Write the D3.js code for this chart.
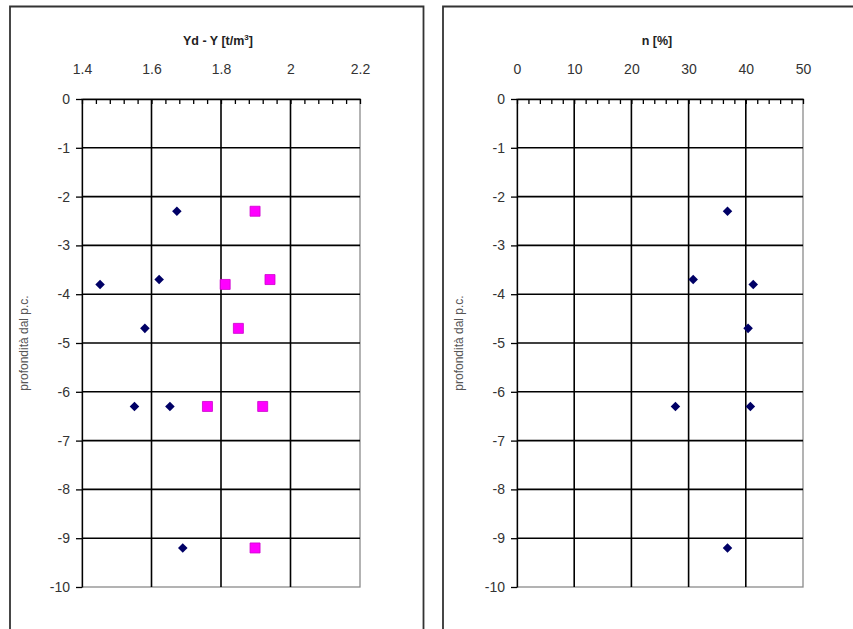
<!DOCTYPE html>
<html>
<head>
<meta charset="utf-8">
<script src="https://cdn.jsdelivr.net/npm/d3@7"></script>
<style>
  body { margin: 0; background: #fff; }
  text { font-family: 'Liberation Sans', Arial, sans-serif; fill: #222; }
  .grid line { stroke: #000; stroke-width: 1.6; }
  .axis path, .axis line { stroke: #000; stroke-width: 1.3; }
  .axis text { font-size: 14px; fill: #333; }
</style>
</head>
<body>
<div id="chart"></div>
<script>
// depth of each sample [m]
const depth = [-2.3, -3.7, -3.8, -4.7, -6.3, -6.3, -9.2]

// left chart: gamma_d (diamonds) and gamma (squares), t/m3
const gammaD = [1.673, 1.622, 1.452, 1.581, 1.551, 1.653, 1.69]
const gamma = [1.898, 1.941, 1.812, 1.85, 1.761, 1.92, 1.898]

// right chart: porosity n (%)
const porosity = [36.8, 30.8, 41.3, 40.4, 27.7, 40.8, 36.8]

const yTicks = [0, -1, -2, -3, -4, -5, -6, -7, -8, -9, -10]
const gammaTicks = [1.4, 1.6, 1.8, 2, 2.2]
const nTicks = [0, 10, 20, 30, 40, 50]

const W = 853
const H = 629

const svg = d3
  .select('#chart')
  .append('svg')
  .attr('width', W)
  .attr('height', H)

// outer frames (bottom cut off in the picture)
svg
  .append('path')
  .attr('d', 'M10,' + H + 'V6.5H423.5V' + H)
  .attr('fill', 'none')
  .attr('stroke', '#333')
  .attr('stroke-width', 1.8)
svg
  .append('path')
  .attr('d', 'M443,' + H + 'V6.5H' + W)
  .attr('fill', 'none')
  .attr('stroke', '#333')
  .attr('stroke-width', 1.8)

const drawPanel = function(opts) {
  const x = d3.scaleLinear().domain(opts.domain).range(opts.range)
  const y = d3.scaleLinear().domain([0, -10]).range([99, 587])
  const g = svg.append('g')

  // plot area border (grey)
  g.append('rect')
    .attr('x', x.range()[0])
    .attr('y', y(0))
    .attr('width', x.range()[1] - x.range()[0])
    .attr('height', y(-10) - y(0))
    .attr('fill', '#fff')
    .attr('stroke', '#8a8a8a')
    .attr('stroke-width', 1.3)

  const grid = g.append('g').attr('class', 'grid')
  grid
    .selectAll('line.h')
    .data(yTicks.filter(d => d !== 0 && d !== -10))
    .enter()
    .append('line')
    .attr('x1', x.range()[0])
    .attr('x2', x.range()[1])
    .attr('y1', d => y(d))
    .attr('y2', d => y(d))
  grid
    .selectAll('line.v')
    .data(opts.ticks.slice(1, -1))
    .enter()
    .append('line')
    .attr('x1', d => x(d))
    .attr('x2', d => x(d))
    .attr('y1', y(0))
    .attr('y2', y(-10))

  // top axis: minor ticks inside, labels above
  const step = opts.ticks[1] - opts.ticks[0]
  const minor = d3.range(opts.domain[0], opts.domain[1] + step / 10, step / 5)
  g.append('g')
    .attr('class', 'axis')
    .attr('transform', 'translate(0,' + y(0) + ')')
    .call(
      d3
        .axisBottom(x)
        .tickValues(minor)
        .tickSize(5)
        .tickSizeOuter(0)
        .tickFormat('')
    )
  g.append('g')
    .attr('class', 'axis')
    .attr('transform', 'translate(0,' + (y(0) - 22) + ')')
    .call(d3.axisTop(x).tickValues(opts.ticks).tickSize(0).tickFormat(d3.format('')))
    .call(s => s.select('.domain').remove())

  // left axis
  g.append('g')
    .attr('class', 'axis')
    .attr('transform', 'translate(' + x.range()[0] + ',0)')
    .call(d3.axisLeft(y).tickValues(yTicks).tickSize(6).tickSizeOuter(0).tickPadding(6))
    .selectAll('text')
    .text(d => (d === 0 ? '0' : '-' + Math.abs(d)))

  // titles
  const title = g
    .append('text')
    .attr('x', (x.range()[0] + x.range()[1]) / 2 - 3)
    .attr('y', 45)
    .attr('text-anchor', 'middle')
    .style('font-size', '12.5px')
    .style('font-weight', 'bold')
  opts.title(title)

  g.append('text')
    .attr('transform', 'translate(' + (x.range()[0] - 54) + ',' + 343 + ') rotate(-90)')
    .attr('text-anchor', 'middle')
    .style('font-size', '12px')
    .style('fill', '#555')
    .text('profondità dal p.c.')

  return { g: g, x: x, y: y }
}

const diamond = d3.symbol().type(d3.symbolDiamond2).size(58)
const square = d3.symbol().type(d3.symbolSquare).size(100)

// left panel
const left = drawPanel({
  domain: [1.4, 2.2],
  range: [82, 360],
  ticks: gammaTicks,
  title: function(t) {
    t.append('tspan').text('Yd - Y [t/m')
    t.append('tspan').attr('dy', -5).style('font-size', '8px').text('3')
    t.append('tspan').attr('dy', 5).text(']')
  },
})

left.g
  .selectAll('path.gd')
  .data(gammaD)
  .enter()
  .append('path')
  .attr('class', 'gd')
  .attr('d', diamond)
  .attr('fill', '#000066')
  .attr('transform', (d, i) => 'translate(' + left.x(d) + ',' + left.y(depth[i]) + ')')

left.g
  .selectAll('path.gm')
  .data(gamma)
  .enter()
  .append('path')
  .attr('class', 'gm')
  .attr('d', square)
  .attr('fill', '#ff00ff')
  .attr('stroke', '#cc00cc')
  .attr('stroke-width', 0.8)
  .attr('transform', (d, i) => 'translate(' + left.x(d) + ',' + left.y(depth[i]) + ')')

// right panel
const right = drawPanel({
  domain: [0, 50],
  range: [517, 803],
  ticks: nTicks,
  title: function(t) {
    t.text('n [%]')
  },
})

right.g
  .selectAll('path.n')
  .data(porosity)
  .enter()
  .append('path')
  .attr('class', 'n')
  .attr('d', diamond)
  .attr('fill', '#000066')
  .attr('transform', (d, i) => 'translate(' + right.x(d) + ',' + right.y(depth[i]) + ')')
</script>
</body>
</html>
